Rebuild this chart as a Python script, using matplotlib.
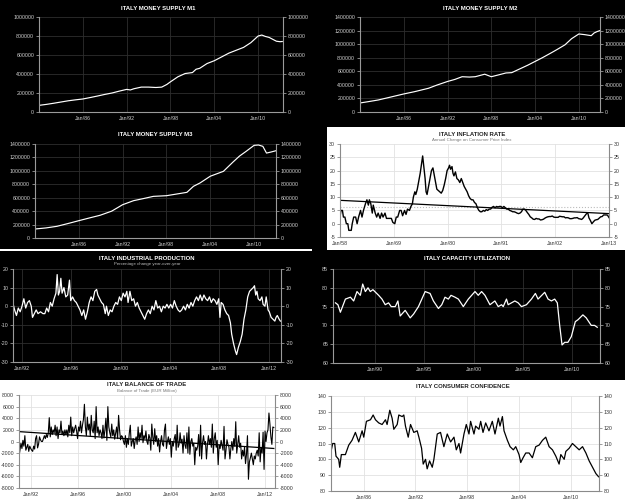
import matplotlib
matplotlib.use("Agg")
import matplotlib.pyplot as plt
from matplotlib.patches import Rectangle
import numpy as np

plt.rcParams["font.family"] = ["Liberation Sans", "DejaVu Sans"]

W, H = 625, 503

# ---------------------------------------------------------------- data
m1_years = [1980.0, 1981.0, 1982.0, 1983.0, 1984.0, 1985.0, 1986.0, 1987.0, 1988.0,
            1989.0, 1990.0, 1991.0, 1992.0, 1992.5, 1993.0, 1994.0, 1995.0, 1996.0,
            1996.8, 1997.5, 1998.0, 1999.0, 2000.0, 2001.0, 2001.5, 2002.0, 2003.0,
            2004.0, 2005.0, 2006.0, 2007.0, 2008.0, 2009.0, 2010.0, 2010.5, 2011.0,
            2011.5, 2012.0, 2012.5, 2013.0, 2013.3]
m1_vals = [70000, 80000, 92000, 105000, 118000, 128000, 137000, 152000, 168000,
           185000, 200000, 220000, 238000, 232000, 245000, 262000, 262000, 258000,
           262000, 290000, 318000, 370000, 405000, 415000, 450000, 460000, 510000,
           540000, 580000, 620000, 650000, 680000, 730000, 800000, 810000, 795000,
           785000, 765000, 745000, 740000, 742000]

m2_years = [1980.0, 1981.0, 1982.5, 1984.0, 1986.0, 1987.5, 1989.4, 1990.5, 1992.0,
            1993.0, 1994.0, 1995.0, 1995.8, 1997.1, 1998.0, 1999.0, 2000.0, 2000.8,
            2002.1, 2003.0, 2004.0, 2005.0, 2006.3, 2007.0, 2008.1, 2009.0, 2010.0,
            2010.8, 2011.7, 2012.1, 2012.5, 2012.9]
m2_vals = [133000, 150000, 177000, 215000, 266000, 300000, 350000, 395000, 450000,
           480000, 520000, 515000, 520000, 557000, 520000, 547000, 575000, 580000,
           645000, 690000, 745000, 800000, 877000, 920000, 990000, 1080000, 1150000,
           1140000, 1125000, 1165000, 1185000, 1200000]

m3_years = [1980.0, 1981.5, 1983.0, 1984.5, 1986.0, 1987.5, 1988.9, 1990.5, 1992.0,
            1993.5, 1994.8, 1996.2, 1998.0, 1999.4, 2000.8, 2001.7, 2002.6, 2004.0,
            2005.8, 2007.1, 2008.0, 2008.9, 2010.0, 2010.6, 2011.2, 2011.7, 2012.3,
            2013.0]
m3_vals = [134000, 150000, 174000, 215000, 258000, 300000, 338000, 400000, 496000,
           556000, 586000, 620000, 630000, 655000, 680000, 770000, 820000, 920000,
           993000, 1130000, 1220000, 1290000, 1380000, 1385000, 1365000, 1265000,
           1280000, 1300000]

infl_years = [1958.0, 1958.2, 1958.5, 1958.7, 1959.0, 1959.3, 1959.6, 1959.8, 1960.3,
              1960.5, 1960.8, 1961.2, 1961.5, 1961.8, 1962.2, 1962.5, 1962.8, 1963.2,
              1963.5, 1963.8, 1964.0, 1964.3, 1964.6, 1964.8, 1965.2, 1965.5, 1965.8,
              1966.2, 1966.5, 1966.8, 1967.2, 1967.5, 1967.8, 1968.2, 1968.5, 1968.8,
              1969.2, 1969.5, 1969.8, 1970.2, 1970.5, 1970.8, 1971.2, 1971.5, 1971.8,
              1972.2, 1972.5, 1972.8, 1973.0, 1973.3, 1973.5, 1973.8, 1974.1, 1974.4,
              1974.7, 1974.9, 1975.1, 1975.4, 1975.6, 1975.8, 1976.1, 1976.4, 1976.7,
              1977.0, 1977.3, 1977.6, 1977.8, 1978.1, 1978.4, 1978.7, 1979.0, 1979.3,
              1979.6, 1979.9, 1980.2, 1980.4, 1980.6, 1980.9, 1981.1, 1981.3, 1981.6,
              1981.9, 1982.2, 1982.5, 1982.8, 1983.1, 1983.4, 1983.7, 1984.0, 1984.3,
              1984.6, 1984.9, 1985.2, 1985.5, 1985.8, 1986.1, 1986.4, 1986.7, 1987.0,
              1987.3, 1987.6, 1987.9, 1988.2, 1988.5, 1988.8, 1989.1, 1989.4, 1989.7,
              1990.0, 1990.3, 1990.6, 1990.9, 1991.2, 1991.5, 1991.8, 1992.1, 1992.4,
              1992.7, 1993.0, 1993.3, 1993.6, 1993.9, 1994.2, 1994.5, 1994.8, 1995.1,
              1995.4, 1995.7, 1996.0, 1996.3, 1996.6, 1996.9, 1997.2, 1997.5, 1997.8,
              1998.1, 1998.4, 1998.7, 1999.0, 1999.3, 1999.6, 1999.9, 2000.2, 2000.5,
              2000.8, 2001.1, 2001.4, 2001.7, 2002.0, 2002.3, 2002.6, 2002.9, 2003.2,
              2003.5, 2003.8, 2004.1, 2004.4, 2004.7, 2005.0, 2005.3, 2005.6, 2005.9,
              2006.2, 2006.5, 2006.8, 2007.1, 2007.4, 2007.7, 2007.9, 2008.2, 2008.5,
              2008.7, 2008.9, 2009.2, 2009.5, 2009.8, 2010.1, 2010.4, 2010.7, 2011.0,
              2011.3, 2011.6, 2011.9, 2012.2, 2012.5, 2012.7, 2012.9, 2013.0]
infl_vals = [2.5, 5.0, 5.0, 2.5, 2.5, 0.0, 0.0, -2.5, -2.5,
             0.0, 2.5, 2.5, 0.0, 2.5, 5.0, 2.5, 5.0, 7.5,
             9.0, 7.0, 9.0, 7.5, 4.0, 7.0, 4.0, 2.5, 4.0,
             2.0, 4.0, 2.5, 4.0, 2.0, 2.0, 2.0, 2.0, 0.5,
             0.0, 2.5, 2.5, 5.0, 5.0, 3.0, 5.0, 3.5, 5.5,
             5.0, 6.5, 7.5, 10.0, 12.0, 11.0, 13.0, 16.0, 19.0,
             23.0, 25.5, 22.0, 17.0, 12.0, 11.0, 14.0, 17.0, 20.0,
             21.0, 18.0, 15.0, 13.0, 12.5, 12.0, 11.5, 12.5, 14.5,
             17.0, 20.0, 21.0, 22.0, 20.5, 21.5, 19.0, 18.0, 19.5,
             17.0, 16.5, 15.5, 17.0, 15.5, 14.0, 13.0, 12.0, 10.5,
             9.5, 9.0, 9.0, 8.0, 7.5, 6.0, 5.0, 4.5, 4.5,
             5.0, 4.7, 5.3, 5.0, 5.5, 5.5, 6.2, 6.5, 6.0,
             6.5, 6.3, 6.5, 6.5, 6.0, 6.5, 6.0, 5.5, 5.5,
             5.0, 4.8, 4.5, 4.5, 4.3, 4.0, 3.8, 4.0, 4.5,
             5.5, 5.5, 5.0, 4.2, 3.5, 2.6, 2.2, 1.7, 1.6,
             2.0, 1.8, 1.8, 1.4, 1.5, 1.7, 2.1, 2.4, 2.6,
             2.7, 2.7, 2.9, 2.5, 2.4, 2.4, 2.4, 2.8, 2.7,
             2.6, 2.6, 2.2, 2.3, 2.2, 1.9, 1.9, 2.0, 2.2,
             2.2, 2.3, 1.9, 1.8, 1.6, 2.1, 2.6, 3.3, 4.0,
             3.8, 2.2, 1.2, 0.0, 0.7, 1.3, 1.5, 1.6, 2.1,
             2.6, 2.7, 3.3, 3.3, 3.3, 3.2, 2.6, 2.3]
infl_trend = [8.8, 3.8]          # linear trend at Jan/58 and Jan/13
infl_mean = 6.3

ip_years = [1991.25, 1991.4, 1991.55, 1991.7, 1991.85, 1992.0, 1992.15, 1992.3, 1992.45,
            1992.6, 1992.75, 1992.85, 1993.0, 1993.15, 1993.3, 1993.5, 1993.7, 1993.85,
            1994.0, 1994.15, 1994.3, 1994.45, 1994.6, 1994.75, 1994.85, 1994.95, 1995.05,
            1995.15, 1995.25, 1995.4, 1995.55, 1995.7, 1995.85, 1995.95, 1996.1, 1996.25,
            1996.4, 1996.55, 1996.7, 1996.85, 1997.0, 1997.15, 1997.3, 1997.45, 1997.6,
            1997.75, 1997.9, 1998.05, 1998.15, 1998.3, 1998.45, 1998.6, 1998.75, 1998.85,
            1999.0, 1999.15, 1999.3, 1999.45, 1999.6, 1999.75, 1999.9, 2000.05, 2000.2,
            2000.35, 2000.5, 2000.6, 2000.75, 2000.9, 2001.05, 2001.2, 2001.35, 2001.5,
            2001.65, 2001.8, 2001.95, 2002.1, 2002.25, 2002.4, 2002.55, 2002.7, 2002.85,
            2003.0, 2003.15, 2003.3, 2003.45, 2003.6, 2003.75, 2003.9, 2004.05, 2004.2,
            2004.35, 2004.5, 2004.65, 2004.8, 2004.95, 2005.1, 2005.25, 2005.4, 2005.55,
            2005.7, 2005.85, 2006.0, 2006.15, 2006.3, 2006.45, 2006.6, 2006.75, 2006.9,
            2007.05, 2007.2, 2007.35, 2007.5, 2007.65, 2007.8, 2007.95, 2008.05, 2008.15,
            2008.3, 2008.45, 2008.6, 2008.75, 2008.9, 2009.0, 2009.15, 2009.3, 2009.4,
            2009.55, 2009.7, 2009.85, 2010.0, 2010.15, 2010.3, 2010.45, 2010.6, 2010.75,
            2010.85, 2010.95, 2011.05, 2011.15, 2011.3, 2011.45, 2011.55, 2011.7, 2011.8,
            2011.95, 2012.05, 2012.2, 2012.35, 2012.5, 2012.6, 2012.7, 2012.85, 2012.95]
ip_vals = [2, -2, -5, -1, -3, 0, 4, -1, 2,
           3, 0, -6, -4, -2, -4, -3, -4, -4,
           -1, -3, 2, 0, 4, 7, 17, 6, 8,
           15, 7, 10, 5, 6, 14, 3, 5, 3,
           2, 0, -2, -5, -2, -7, -3, 2, 5,
           3, 8, 9, 6, 4, 2, 1, -4, 0,
           -5, -2, -3, 0, 2, 1, 5, 3, 7,
           5, 8, 2, 8, 3, 4, 0, 2, -1,
           -3, -5, -7, -4, -2, -4, 0, -2, 3,
           -1, 0, -3, 0, -1, 1, -1, 1, -1,
           3, 0, -2, -3, -2, 0, -2, 1, -1,
           2, 0, 3, 5, 3, 6, 3, 6, 4,
           3, 5, 2, 4, 3, 1, 4, -6, 2,
           1, -2, -4, -5, -9, -15, -20, -24, -26,
           -22, -19, -15, -7, -2, 5, 8, 9, 10,
           11, 6, 8, 4, 3, 5, 1, 0, 5,
           -2, -3, -6, -7, -8, -6, -5, -7, -8]

cu_years = [1985.95, 1986.2, 1986.45, 1986.96, 1987.47, 1987.8, 1988.14, 1988.48, 1988.72,
            1988.99, 1989.26, 1989.49, 1989.76, 1990.34, 1990.68, 1991.01, 1991.35, 1991.62,
            1992.03, 1992.3, 1992.53, 1993.04, 1993.55, 1993.89, 1994.39, 1994.73, 1995.07,
            1995.57, 1995.91, 1996.42, 1996.76, 1997.09, 1997.43, 1997.7, 1998.11, 1998.45,
            1998.95, 1999.46, 2000.14, 2000.47, 2000.81, 2001.15, 2001.66, 2002.16, 2002.5,
            2002.84, 2003.01, 2003.34, 2003.51, 2003.85, 2004.19, 2004.53, 2004.86, 2005.37,
            2005.88, 2006.28, 2006.55, 2007.23, 2007.57, 2007.91, 2008.24, 2008.51, 2008.75,
            2008.99, 2009.26, 2009.59, 2009.93, 2010.34, 2010.61, 2011.11, 2011.45, 2011.96,
            2012.3, 2012.57]
cu_vals = [76, 75.5, 73.5, 77, 77.5, 76.5, 79, 78, 81,
           79, 80, 79, 79.5, 78, 77, 75.5, 76, 75,
           75, 76.5, 72.5, 74, 72, 73, 75, 77, 79,
           78.5, 76.5, 74.5, 75.5, 77.5, 77, 78, 77.5, 77,
           75, 77, 79, 78, 79, 78, 75.5, 76.5, 75,
           75.5, 75, 77, 75.5, 76, 76.5, 76, 75, 75.5,
           77, 78.5, 77, 78.8, 77, 76.5, 77, 76, 70,
           64.8, 65.5, 65.5, 67, 71, 71.5, 72.8, 72, 70,
           70, 69.5]

bot_start = 1991.0               # monthly series, first month
bot_vals = [
    -2600, -1500, -300, -1200, 200, -800, 1000, -1500, -1000, -500, -1700, -800,   # 1991
    -1200, -1500, -1700, -800, -1300, 500, 1000, -1100, -500, 800, 300, 0,        # 1992
    0, 500, 1000, 500, 1200, 700, 1500, 4100, 800, 2500, 1200, 2000,               # 1993
    1500, 2800, 1000, 2500, 500, 2000, 1500, 3500, 1200, 1800, 1000, 2000,         # 1994
    1200, 2000, 800, 2800, 1500, 4200, 1000, 2500, 1500, 2200, 2800, 1800,         # 1995
    500, 2500, 1800, 3500, 1500, 2800, 3800, 6400, 2500, 1000, 4200, 2000,         # 1996
    3000, 1000, 4500, 2000, 1500, 3500, 500, 6000, 1500, 2500, 1000, 2000,         # 1997
    1500, 500, 2800, 600, 2000, 4000, 200, 6000, 2500, 1500, 800, 3000,            # 1998
    1000, 2000, 400, 1500, 2500, 500, 4500, 2000, 300, 1000, 800, 0,               # 1999
    -500, 1000, -1000, 500, -500, 1500, 2800, -800, 0, 500, -1200, 200,            # 2000
    800, -500, 2500, 0, 1500, 500, 2800, -200, 1000, 500, 1800, 0,                 # 2001
    -500, 1200, 600, -1500, 3000, 800, -500, 2200, 0, 1000, -800, 500,             # 2002
    -1800, 0, 1000, -500, -800, 2000, 3000, -1200, 0, 800, -500, 500,              # 2003
    -2700, 0, -800, 500, 1200, -1500, 2800, -1000, -500, 1500, -300, 400,          # 2004
    -2000, 1000, -600, -1200, 1500, -2000, 2500, -2200, 0, 500, -800, -300,        # 2005
    -4000, -1000, -1500, -800, 1200, -2500, 2800, -3000, -200, 1000, -500, 0,      # 2006
    -3000, -500, 1000, -500, 500, -1000, 3000, -2000, 500, 1500, -1000, 200,       # 2007
    -4000, -600, -1200, 200, -700, -1500, 2600, -3000, -1500, 300, -500, -900,     # 2008
    -3000, -1200, 0, -1500, 500, -800, 3400, -2000, -500, 1000, -1000, -300,       # 2009
    -3000, -1500, -2500, -1000, -3800, -2200, 1000, -6500, -3500, -2800, -2000, -3000,  # 2010
    -4000, -2500, -3000, -2000, -1500, -2500, 1500, -3500, -1000, -2000, 1600, -4800,   # 2011
    1800, 0, 1500, 2000, 4900, 3000, 800, -500, 2500, 2400,                        # 2012
]
bot_trend = [1700, -1200]        # trend at first and last month

cc_years = [1982.2, 1982.4, 1982.63, 1982.78, 1983.09, 1983.21, 1983.4, 1983.67, 1983.87,
            1984.26, 1984.64, 1985.03, 1985.42, 1985.81, 1986.0, 1986.31, 1986.78, 1987.09,
            1987.36, 1987.74, 1988.13, 1988.52, 1988.71, 1989.02, 1989.29, 1989.49, 1989.88,
            1990.07, 1990.46, 1990.65, 1990.84, 1991.16, 1991.43, 1991.81, 1992.2, 1992.4,
            1992.71, 1992.9, 1993.17, 1993.36, 1993.64, 1993.95, 1994.14, 1994.53, 1994.91,
            1995.3, 1995.69, 1996.08, 1996.47, 1996.74, 1997.05, 1997.24, 1997.63, 1997.9,
            1998.21, 1998.4, 1998.79, 1998.98, 1999.37, 1999.57, 1999.84, 2000.15, 2000.53,
            2000.92, 2001.23, 2001.62, 2001.81, 2002.09, 2002.28, 2002.67, 2002.98, 2003.36,
            2003.64, 2004.02, 2004.22, 2004.49, 2004.8, 2005.19, 2005.57, 2005.96, 2006.35,
            2006.74, 2007.12, 2007.51, 2007.9, 2008.29, 2008.67, 2008.87, 2009.26, 2009.45,
            2009.84, 2010.22, 2010.61, 2011.0, 2011.39, 2011.78, 2012.16, 2012.55, 2012.94,
            2013.25]
cc_vals = [105, 110, 110, 102, 100, 95, 103, 103, 103,
           109, 112, 117, 111, 118, 114, 124, 125, 128,
           125, 123, 122, 125, 122, 131, 126, 119, 122,
           128, 127, 128, 121, 114, 122, 117, 118, 114,
           107, 97, 100, 94, 99, 95, 100, 116, 117,
           108, 116, 111, 114, 106, 110, 104, 116, 122,
           116, 124, 116, 121, 119, 124, 117, 123, 118,
           124, 116, 126, 121, 127, 118, 112, 108, 106,
           108, 103, 98, 101, 104, 104, 101, 108, 109,
           112, 114, 108, 106, 102, 97, 103, 100, 105,
           107, 110, 108, 106, 108, 104, 99, 95, 91,
           89]

# ---------------------------------------------------------------- layout
fig = plt.figure(figsize=(W / 100, H / 100), dpi=100, facecolor="black")


def px_rect(x0, y0, x1, y1):
    return [x0 / W, 1 - y1 / H, (x1 - x0) / W, (y1 - y0) / H]


def fig_box(x0, y0, x1, y1, color):
    fig.add_artist(Rectangle((x0 / W, 1 - y1 / H), (x1 - x0) / W, (y1 - y0) / H,
                             transform=fig.transFigure, facecolor=color,
                             edgecolor="none", zorder=0))


# white panels behind the light charts
fig_box(327, 127, 625, 250, "white")
fig_box(0, 380, 625, 503, "white")
fig_box(0, 249, 312, 251, "white")


def title(x, y, text, dark, sub=None):
    fig.text(x / W, 1 - y / H, text, ha="center", va="center", fontsize=4.3,
             fontweight="bold", color="white" if dark else "#222222")
    if sub:
        fig.text(x / W, 1 - (y + 6) / H, sub, ha="center", va="center",
                 fontsize=3.2, color="#bbbbbb" if dark else "#777777")


def panel(box, dark, xlim, ylim, xticks, xlabels, yticks):
    ax = fig.add_axes(px_rect(*box))
    ax.set_facecolor("none")
    spine = "#9a9a9a" if dark else "#8a8a8a"
    txt = "#cfcfcf" if dark else "#333333"
    grid = "#2e2e2e" if dark else "#e2e2e2"
    ax.set_xlim(*xlim)
    ax.set_ylim(*ylim)
    ax.set_xticks(xticks)
    ax.set_xticklabels(xlabels)
    ax.set_yticks(yticks)
    ax.set_yticklabels([f"{v:d}" for v in yticks])
    ax.tick_params(axis="y", left=True, right=True, labelleft=True, labelright=True,
                   length=2.5, width=0.6, color=spine, labelsize=3.8,
                   labelcolor=txt, pad=1)
    ax.tick_params(axis="x", length=0, labelsize=3.8, labelcolor=txt, pad=3)
    ax.grid(True, color=grid, lw=0.6)
    ax.set_axisbelow(True)
    ax.spines["top"].set_visible(False)
    for s in ("left", "right", "bottom"):
        ax.spines[s].set_color(spine)
        ax.spines[s].set_linewidth(0.8)
    return ax


def jan_labels(years):
    return [f"Jan/{y % 100:02d}" for y in years]


money_x = [1986, 1992, 1998, 2004, 2010]

# M1
title(158, 8, "ITALY MONEY SUPPLY M1", True)
ax = panel((39, 17, 283, 112), True, (1980, 2013.4), (0, 1000000),
           money_x, jan_labels(money_x), list(range(0, 1000001, 200000)))
ax.plot(m1_years, m1_vals, color="white", lw=0.85)

# M2
title(480, 8, "ITALY MONEY SUPPLY M2", True)
ax = panel((360, 17, 600, 112), True, (1980, 2012.9), (0, 1400000),
           money_x, jan_labels(money_x), list(range(0, 1400001, 200000)))
ax.plot(m2_years, m2_vals, color="white", lw=0.85)

# M3
title(155, 134, "ITALY MONEY SUPPLY M3", True)
ax = panel((35, 144, 276, 238), True, (1980, 2013), (0, 1400000),
           money_x, jan_labels(money_x), list(range(0, 1400001, 200000)))
ax.plot(m3_years, m3_vals, color="white", lw=0.85)

# inflation
infl_x = [1958, 1969, 1980, 1991, 2002, 2013]
title(472, 134, "ITALY INFLATION RATE", False,
      "Annual Change on Consumer Price Index")
ax = panel((340, 144, 609, 237), False, (1958, 2013), (-5, 30),
           infl_x, jan_labels(infl_x), list(range(-5, 31, 5)))
ax.axhline(infl_mean, color="#bbbbbb", lw=0.8, ls=":")
ax.plot([1958, 2013], infl_trend, color="black", lw=0.9)
ax.plot(infl_years, infl_vals, color="black", lw=1.0)

# industrial production
ip_x = [1992, 1996, 2000, 2004, 2008, 2012]
title(147, 258, "ITALY INDUSTRIAL PRODUCTION", True,
      "Percentage change year-over-year")
ax = panel((13, 269, 281, 362), True, (1991.27, 2013.0), (-30, 20),
           ip_x, jan_labels(ip_x), list(range(-30, 21, 10)))
ax.plot(ip_years, ip_vals, color="white", lw=0.9)

# capacity utilization
cu_x = [1990, 1995, 2000, 2005, 2010]
title(467, 258, "ITALY CAPACITY UTILIZATION", True)
ax = panel((333, 269, 600, 363), True, (1985.7, 2012.85), (60, 85),
           cu_x, jan_labels(cu_x), list(range(60, 86, 5)))
ax.plot(cu_years, cu_vals, color="white", lw=0.9)

# balance of trade
bot_x = [1992, 1996, 2000, 2004, 2008, 2012]
bot_t = bot_start + np.arange(len(bot_vals)) / 12
title(147, 385, "ITALY BALANCE OF TRADE", False, "Balance of Trade (EUR Million)")
ax = panel((19, 395, 275, 488), False, (1991.0, 2012.85), (-8000, 8000),
           bot_x, jan_labels(bot_x), list(range(-8000, 8001, 2000)))
ax.plot([bot_t[0], bot_t[-1]], bot_trend, color="black", lw=0.9)
ax.plot(bot_t, bot_vals, color="black", lw=0.8)

# consumer confidence
cc_x = [1986, 1992, 1998, 2004, 2010]
title(463, 386, "ITALY CONSUMER CONFIDENCE", False)
ax = panel((331, 396, 599, 491), False, (1982.2, 2013.3), (80, 140),
           cc_x, jan_labels(cc_x), list(range(80, 141, 10)))
ax.plot(cc_years, cc_vals, color="black", lw=0.9)

fig.savefig("out.png", dpi=100, facecolor=fig.get_facecolor())
